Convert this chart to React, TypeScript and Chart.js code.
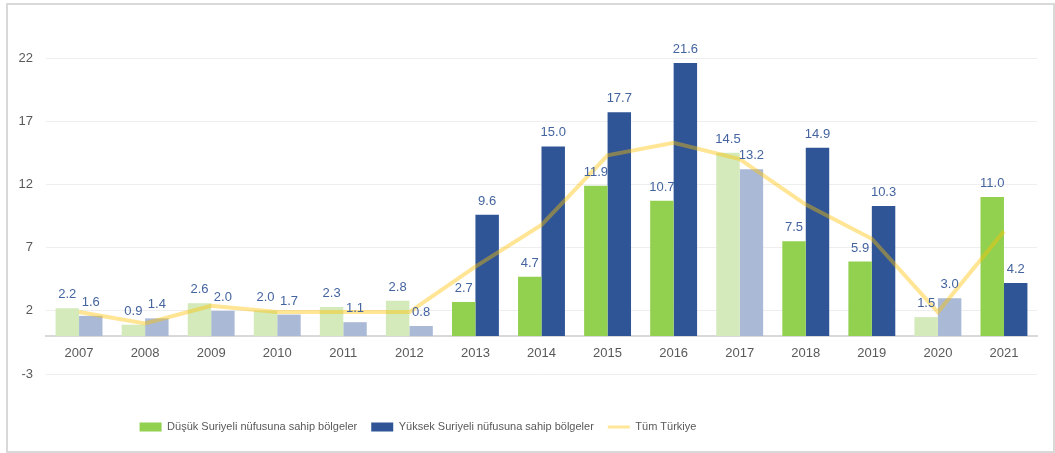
import React, { useEffect, useRef } from "react";
import { Chart, registerables } from "chart.js";

Chart.register(...registerables);

const years = ["2007", "2008", "2009", "2010", "2011", "2012", "2013", "2014", "2015", "2016", "2017", "2018", "2019", "2020", "2021"];
const lowSyrian = [2.2, 0.9, 2.6, 2.0, 2.3, 2.8, 2.7, 4.7, 11.9, 10.7, 14.5, 7.5, 5.9, 1.5, 11.0];
const highSyrian = [1.6, 1.4, 2.0, 1.7, 1.1, 0.8, 9.6, 15.0, 17.7, 21.6, 13.2, 14.9, 10.3, 3.0, 4.2];
const allTurkey = [1.9, 1.0, 2.4, 1.9, 1.9, 1.9, 5.5, 8.8, 14.3, 15.3, 14.0, 10.4, 7.7, 1.9, 8.3];
const emphasized = [false, false, false, false, false, false, true, true, true, true, false, true, true, false, true];
const yTicks = [-3, 2, 7, 12, 17, 22];
const seriesNames = ["Düşük Suriyeli nüfusuna sahip bölgeler", "Yüksek Suriyeli nüfusuna sahip bölgeler", "Tüm Türkiye"];

const GREEN = "#92d050";
const GREEN_FADED = "#d4eabb";
const BLUE = "#2f5597";
const BLUE_FADED = "#aabad6";
const LINE = "rgba(255,192,0,0.42)";
const LABEL = "#44649f";
const TICK = "#595959";
const FONT = "'Liberation Sans', Arial, sans-serif";

const dataLabels = {
  id: "dataLabels",
  afterDatasetsDraw(chart: any) {
    const ctx = chart.ctx;
    ctx.save();
    ctx.font = `13px ${FONT}`;
    ctx.fillStyle = LABEL;
    ctx.textAlign = "center";
    ctx.textBaseline = "alphabetic";
    [0, 1].forEach((di) => {
      const meta = chart.getDatasetMeta(di);
      const vals = chart.data.datasets[di].data as number[];
      meta.data.forEach((el: any, j: number) => {
        ctx.fillText(vals[j].toFixed(1), el.x, el.y - 10);
      });
    });
    ctx.restore();
  },
};

const legendShift = {
  id: "legendShift",
  afterLayout(chart: any) {
    const lg = chart.legend;
    if (!lg) return;
    const dx = 418 - (lg.left + lg.right) / 2;
    const itemH = lg.legendHitBoxes && lg.legendHitBoxes[0] ? lg.legendHitBoxes[0].height : 12;
    const pad = lg.options.labels.padding;
    const newTop = 427 - pad - itemH / 2;
    const dy = newTop - lg.top;
    lg.left += dx;
    lg.right += dx;
    lg.top += dy;
    lg.bottom += dy;
  },
};

export default function App() {
  const ref = useRef<HTMLCanvasElement | null>(null);

  useEffect(() => {
    if (!ref.current) return;
    const legendFill = [GREEN, BLUE, "#ffe699"];
    const legendStyle = ["rect", "rect", "line"];
    const chart = new Chart(ref.current, {
      type: "bar",
      data: {
        labels: years,
        datasets: [
          {
            label: seriesNames[0],
            data: lowSyrian,
            backgroundColor: emphasized.map((e) => (e ? GREEN : GREEN_FADED)),
            categoryPercentage: 0.71,
            barPercentage: 1,
            order: 1,
          },
          {
            label: seriesNames[1],
            data: highSyrian,
            backgroundColor: emphasized.map((e) => (e ? BLUE : BLUE_FADED)),
            categoryPercentage: 0.71,
            barPercentage: 1,
            order: 1,
          },
          {
            type: "line",
            label: seriesNames[2],
            data: allTurkey,
            borderColor: LINE,
            backgroundColor: LINE,
            borderWidth: 4,
            pointRadius: 0,
            tension: 0,
            fill: false,
            order: -1,
          } as any,
        ],
      },
      options: {
        responsive: false,
        animation: false,
        layout: { padding: { top: 58, right: 18, left: 0, bottom: 44 } },
        scales: {
          x: {
            type: "category",
            position: { y: 0 } as any,
            grid: { display: false, drawTicks: false },
            border: { display: true, color: "#d9d9d9", width: 2 },
            ticks: { color: TICK, font: { size: 13, family: FONT }, padding: 10, maxRotation: 0 },
          },
          y: {
            min: -3,
            max: 22,
            afterBuildTicks: (scale: any) => {
              scale.ticks = yTicks.map((v) => ({ value: v }));
            },
            afterFit: (scale: any) => {
              scale.width = 46;
            },
            grid: { color: "#eeeeee", lineWidth: 1, drawTicks: false },
            border: { display: false },
            ticks: { color: TICK, font: { size: 13, family: FONT }, padding: 13 },
          },
        },
        plugins: {
          tooltip: { enabled: false },
          legend: {
            position: "bottom",
            labels: {
              usePointStyle: true,
              pointStyleWidth: 22,
              boxHeight: 9,
              padding: 14,
              color: TICK,
              font: { size: 11, family: FONT },
              sort: (a: any, b: any) => a.datasetIndex - b.datasetIndex,
              generateLabels: (ch: any) => {
                const items = (Chart.defaults as any).plugins.legend.labels.generateLabels(ch);
                items.forEach((it: any) => {
                  const i = it.datasetIndex;
                  it.fillStyle = legendFill[i];
                  it.strokeStyle = legendFill[i];
                  it.pointStyle = legendStyle[i];
                  it.lineWidth = i === 2 ? 3 : 0;
                });
                return items;
              },
            },
          },
        },
      },
      plugins: [dataLabels, legendShift],
    });
    return () => chart.destroy();
  }, []);

  return (
    <div style={{ position: "fixed", left: 0, top: 0, width: 1055, height: 453, background: "#ffffff" }}>
      <canvas ref={ref} width={1055} height={453} style={{ position: "absolute", left: 0, top: 0 }} />
      <div
        style={{
          position: "absolute",
          left: 6,
          top: 3,
          width: 1049,
          height: 450,
          border: "2px solid #d9d9d9",
          boxSizing: "border-box",
          pointerEvents: "none",
        }}
      />
    </div>
  );
}
